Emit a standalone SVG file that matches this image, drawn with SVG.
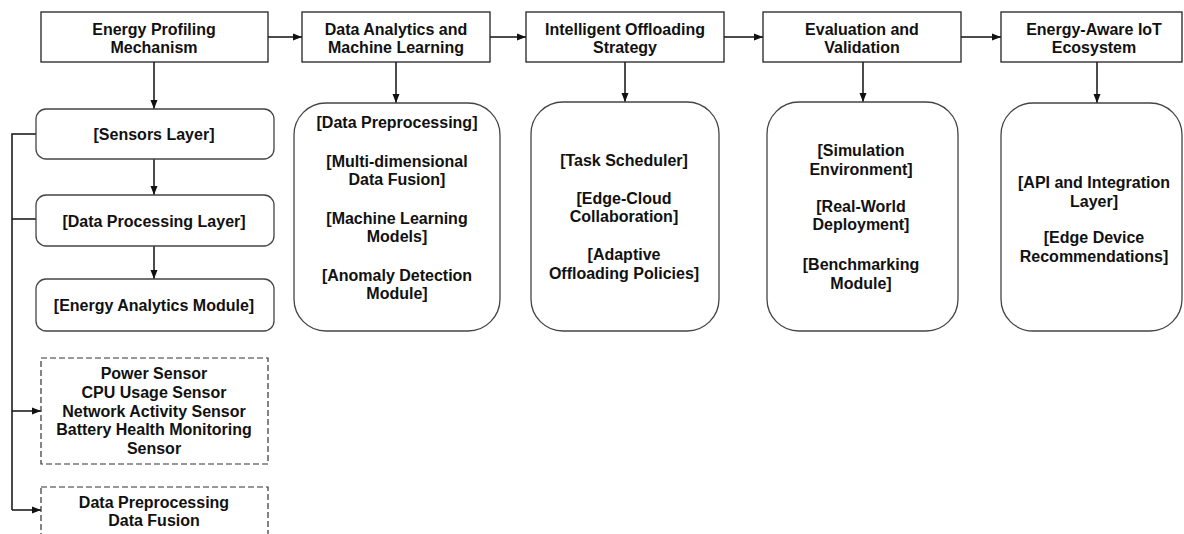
<svg xmlns="http://www.w3.org/2000/svg" width="1184" height="534" viewBox="0 0 1184 534">
<style>
text{font-family:"Liberation Sans",Arial,sans-serif;font-weight:bold;font-size:16px;fill:#111;text-anchor:middle}
.hdr{fill:#fff;stroke:#222;stroke-width:1.3}
.rnd{fill:#fff;stroke:#444;stroke-width:1.3}
.dsh{fill:#fff;stroke:#333;stroke-width:1.2;stroke-dasharray:6 3}
.ln{fill:none;stroke:#111;stroke-width:1.5}
.ar{fill:none;stroke:#111;stroke-width:1.5;marker-end:url(#ah)}
</style>
<defs>
<marker id="ah" markerUnits="userSpaceOnUse" markerWidth="10" markerHeight="8" refX="9" refY="4" orient="auto">
<path d="M0,0.5 L9,4 L0,7.5 Z" fill="#111"/>
</marker>
</defs>
<rect width="1184" height="534" fill="#fff"/>
<g id="connectors">
<line class="ar" x1="268" y1="37" x2="302" y2="37"/>
<line class="ar" x1="490" y1="37" x2="526" y2="37"/>
<line class="ar" x1="724" y1="37" x2="763" y2="37"/>
<line class="ar" x1="961" y1="37" x2="1001" y2="37"/>
<line class="ar" x1="154" y1="62" x2="154" y2="109"/>
<line class="ar" x1="154" y1="159" x2="154" y2="195"/>
<line class="ar" x1="154" y1="246" x2="154" y2="279"/>
<line class="ar" x1="396" y1="62" x2="396" y2="103"/>
<line class="ar" x1="625" y1="62" x2="625" y2="102"/>
<line class="ar" x1="863" y1="62" x2="863" y2="102"/>
<line class="ar" x1="1097" y1="62" x2="1097" y2="103"/>
<polyline class="ln" points="36,134 12,134 12,510"/>
<line class="ln" x1="12" y1="219" x2="36" y2="219"/>
<line class="ar" x1="12" y1="411" x2="41" y2="411"/>
<line class="ar" x1="12" y1="510" x2="41" y2="510"/>
</g>
<g id="h1"><rect class="hdr" x="41" y="12" width="227" height="50"/><text x="154" y="34.5">Energy Profiling</text><text x="154" y="53">Mechanism</text></g>
<g id="h2"><rect class="hdr" x="302" y="12" width="188" height="50"/><text x="396" y="34.5">Data Analytics and</text><text x="396" y="53">Machine Learning</text></g>
<g id="h3"><rect class="hdr" x="526" y="12" width="198" height="50"/><text x="625" y="34.5">Intelligent Offloading</text><text x="625" y="53">Strategy</text></g>
<g id="h4"><rect class="hdr" x="763" y="12" width="198" height="50"/><text x="862" y="34.5">Evaluation and</text><text x="862" y="53">Validation</text></g>
<g id="h5"><rect class="hdr" x="1001" y="12" width="181" height="50"/><text x="1094" y="34.5">Energy-Aware IoT</text><text x="1094" y="53">Ecosystem</text></g>
<g id="sensors"><rect class="rnd" x="36" y="109" width="238" height="50" rx="10"/><text x="154" y="139.5">[Sensors Layer]</text></g>
<g id="dataproc"><rect class="rnd" x="36" y="195" width="238" height="51" rx="10"/><text x="154" y="226.5">[Data Processing Layer]</text></g>
<g id="energyan"><rect class="rnd" x="36" y="279" width="238" height="52" rx="10"/><text x="154" y="311">[Energy Analytics Module]</text></g>
<g id="sensorlist"><rect class="dsh" x="41" y="358" width="227" height="106"/>
<text x="154" y="378.5">Power Sensor</text><text x="154" y="397.5">CPU Usage Sensor</text><text x="154" y="416.5">Network Activity Sensor</text><text x="154" y="435">Battery Health Monitoring</text><text x="154" y="454">Sensor</text></g>
<g id="proclist"><rect class="dsh" x="41" y="487" width="227" height="60"/>
<text x="154" y="507.5">Data Preprocessing</text><text x="154" y="526">Data Fusion</text></g>
<g id="c2"><rect class="rnd" x="294" y="103" width="206" height="228" rx="32"/>
<text x="397" y="128">[Data Preprocessing]</text>
<text x="397" y="166.5">[Multi-dimensional</text><text x="397" y="184.5">Data Fusion]</text>
<text x="397" y="223.5">[Machine Learning</text><text x="397" y="241.5">Models]</text>
<text x="397" y="280.5">[Anomaly Detection</text><text x="397" y="298.5">Module]</text></g>
<g id="c3"><rect class="rnd" x="531" y="102" width="188" height="229" rx="32"/>
<text x="624" y="165.5">[Task Scheduler]</text>
<text x="624" y="203.5">[Edge-Cloud</text><text x="624" y="221.5">Collaboration]</text>
<text x="624" y="259.5">[Adaptive</text><text x="624" y="278.5">Offloading Policies]</text></g>
<g id="c4"><rect class="rnd" x="767" y="102" width="191" height="229" rx="32"/>
<text x="861" y="155.5">[Simulation</text><text x="861" y="174.5">Environment]</text>
<text x="861" y="211.5">[Real-World</text><text x="861" y="229.5">Deployment]</text>
<text x="861" y="269.5">[Benchmarking</text><text x="861" y="288.5">Module]</text></g>
<g id="c5"><rect class="rnd" x="1001" y="103" width="181" height="228" rx="32"/>
<text x="1094" y="187.5">[API and Integration</text><text x="1094" y="206.5">Layer]</text>
<text x="1094" y="242.5">[Edge Device</text><text x="1094" y="261.5">Recommendations]</text></g>
</svg>
